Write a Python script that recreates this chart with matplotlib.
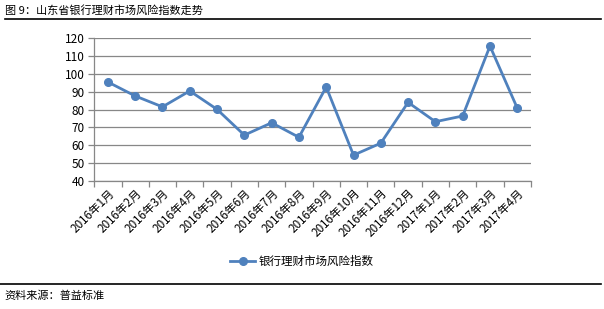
import matplotlib
matplotlib.use('Agg')
import matplotlib.pyplot as plt
from matplotlib.lines import Line2D

plt.rcParams['font.family'] = ['Noto Sans CJK SC', 'DejaVu Sans']

months = ['2016年1月', '2016年2月', '2016年3月', '2016年4月', '2016年5月', '2016年6月',
          '2016年7月', '2016年8月', '2016年9月', '2016年10月', '2016年11月', '2016年12月',
          '2017年1月', '2017年2月', '2017年3月', '2017年4月']
risk_index = [95.4, 87.6, 81.5, 90.4, 80.1, 65.7, 72.6, 64.5, 92.6, 54.5, 61.2, 84.0,
              73.2, 76.4, 115.5, 80.8]
yticks = list(range(40, 121, 10))
series_name = '银行理财市场风险指数'

blue = '#4F81BD'
grid = '#878787'

fig = plt.figure(figsize=(6.04, 3.09), dpi=100)
ax = fig.add_axes([0.156, 0.414, 0.723, 0.463])

x = range(len(months))
ax.plot(x, risk_index, color=blue, lw=2, marker='o', ms=5.5, label=series_name)

ax.set_ylim(40, 120)
ax.set_yticks(yticks)
ax.set_xlim(-0.5, len(months) - 0.5)
ax.set_xticks([i - 0.5 for i in range(len(months) + 1)], minor=False)
ax.set_xticklabels([])
ax.set_xticks(list(x), minor=True)
ax.set_xticklabels(months, minor=True, rotation=45, ha='right', rotation_mode='anchor', fontsize=8.4)
ax.tick_params(axis='x', which='minor', length=0, pad=4)
ax.tick_params(axis='x', which='major', length=4, color=grid, width=0.9)
ax.tick_params(axis='y', length=4, color=grid, width=0.9, labelsize=8.5, pad=3)

ax.grid(axis='y', color=grid, lw=0.9)
ax.set_axisbelow(True)
for s in ['top', 'right']:
    ax.spines[s].set_visible(False)
for s in ['left', 'bottom']:
    ax.spines[s].set_color(grid)
    ax.spines[s].set_linewidth(0.9)

handle = Line2D([0], [0], color=blue, lw=2, marker='o', ms=5.5)
fig.legend([handle], [series_name], loc='center', bbox_to_anchor=(0.5, 0.155),
           frameon=False, fontsize=8.3, handlelength=2.2, handletextpad=0.3)

fig.text(0.008, 0.965, '图 9：山东省银行理财市场风险指数走势', fontsize=8, va='center', ha='left')
fig.add_artist(Line2D([0.008, 0.995], [0.938, 0.938], color='black', lw=1.2))
fig.add_artist(Line2D([0.0, 0.995], [0.081, 0.081], color='black', lw=1.2))
fig.text(0.008, 0.042, '资料来源：普益标准', fontsize=8, va='center', ha='left')

fig.savefig('out.png', dpi=100)
